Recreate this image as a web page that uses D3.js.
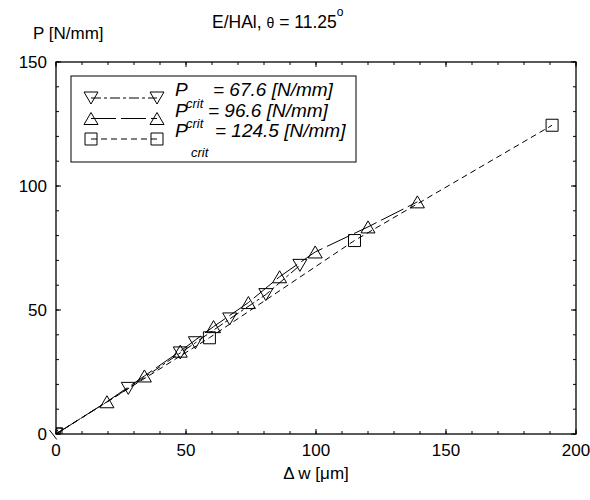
<!doctype html>
<html>
<head>
<script src="https://cdnjs.cloudflare.com/ajax/libs/d3/7.8.5/d3.min.js"></script>
<style>
  body { margin: 0; background: #fff; }
  text { font-family: "Liberation Sans", Arial, sans-serif; fill: #000; }
  .frame { fill: none; stroke: #000; stroke-width: 1.3; }
  .series { fill: none; stroke: #000; stroke-width: 1; }
  .marker { fill: none; stroke: #000; stroke-width: 1; }
</style>
</head>
<body>
<svg id="chart" width="590" height="500"></svg>
<script>
// ---- data ----
var xTicks = [0, 50, 100, 150, 200];
var yTicks = [0, 50, 100, 150];

// P_crit = 67.6 (down triangles, dash-dot)
var downW = [0, 27.8, 47.8, 53.6, 66.8, 80.7, 93.8];
var downP = [0, 18.4, 32.7, 36.8, 46.4, 56.2, 68.0];
// P_crit = 96.6 (up triangles, long dash)
var upW = [0, 19.6, 34, 47.8, 60.6, 74, 86, 99.7, 120, 139];
var upP = [0, 13, 23.4, 33.4, 43.3, 53, 63.4, 73.4, 83.5, 93.6];
// P_crit = 124.5 (squares, short dash)
var sqW = [0, 59, 114.8, 190.8];
var sqP = [0, 38.8, 78, 124.5];

var critLabels = ["= 67.6 [N/mm]", "= 96.6 [N/mm]", "= 124.5 [N/mm]"];

var svg = d3.select("#chart");
var pL = 56, pR = 576, pT = 62, pB = 434;

var x = d3.scaleLinear().domain([0, 200]).range([pL, pR]);
var y = d3.scaleLinear().domain([0, 150]).range([pB, pT]);

svg.append("clipPath").attr("id", "plotclip")
  .append("rect").attr("x", pL).attr("y", pT)
  .attr("width", pR - pL).attr("height", pB - pT);

// ticks, inward on all four sides
var minorX = d3.range(0, 201, 10), minorY = d3.range(0, 151, 10);
function tickLines(g, vals, len, horiz) {
  vals.forEach(function (v) {
    if (horiz) {
      g.append("line").attr("x1", x(v)).attr("x2", x(v)).attr("y1", pB).attr("y2", pB - len).attr("stroke", "#000");
      g.append("line").attr("x1", x(v)).attr("x2", x(v)).attr("y1", pT).attr("y2", pT + len).attr("stroke", "#000");
    } else {
      g.append("line").attr("y1", y(v)).attr("y2", y(v)).attr("x1", pL).attr("x2", pL + len).attr("stroke", "#000");
      g.append("line").attr("y1", y(v)).attr("y2", y(v)).attr("x1", pR).attr("x2", pR - len).attr("stroke", "#000");
    }
  });
}
var tg = svg.append("g");
tickLines(tg, minorX, 3, true);
tickLines(tg, minorY, 3, false);
tickLines(tg, xTicks, 5, true);
tickLines(tg, yTicks, 5, false);

svg.append("rect").attr("class", "frame")
  .attr("x", pL).attr("y", pT).attr("width", pR - pL).attr("height", pB - pT);

// tick labels
svg.selectAll(".xl").data(xTicks).enter().append("text")
  .attr("x", d => x(d)).attr("y", 456).attr("text-anchor", "middle")
  .style("font-size", "17px").text(d => d);
svg.selectAll(".yl").data(yTicks).enter().append("text")
  .attr("x", 47).attr("y", d => y(d) + 6).attr("text-anchor", "end")
  .style("font-size", "17px").text(d => d);

// small stub left of origin
svg.append("line")
  .attr("x1", x(-2.5)).attr("y1", y(1.6)).attr("x2", x(0.3)).attr("y2", y(-2.2))
  .attr("stroke", "#000");

// axis titles
svg.append("text").attr("x", 33).attr("y", 39).style("font-size", "17px").text("P [N/mm]");
svg.append("text").attr("x", (pL + pR) / 2).attr("y", 479).attr("text-anchor", "middle")
  .style("font-size", "17px").text("\u0394 w [\u03bcm]");

var title = svg.append("text").attr("x", 212).attr("y", 28).style("font-size", "17.5px");
title.append("tspan").text("E/HAl, ");
title.append("tspan").style("font-size", "14px").text("\u03b8");
title.append("tspan").text(" = 11.25");
title.append("tspan").attr("dy", -12).style("font-size", "12px").text("o");

// marker shapes
function downTri() { return "M-7,-6L7,-6L0,6Z"; }
function upTri() { return "M-7,6L7,6L0,-6Z"; }
function sqShape() { return "M-6,-6L6,-6L6,6L-6,6Z"; }

var series = [
  { w: downW, p: downP, dash: "10,3,3,3", shape: downTri },
  { w: upW, p: upP, dash: "25,5", shape: upTri },
  { w: sqW, p: sqP, dash: "6,4", shape: sqShape }
];

var plot = svg.append("g").attr("clip-path", "url(#plotclip)");
var line = d3.line().x(d => x(d[0])).y(d => y(d[1]));

series.forEach(function (s) {
  var pts = s.w.map((w, i) => [w, s.p[i]]);
  plot.append("path").attr("class", "series").attr("d", line(pts))
    .attr("stroke-dasharray", s.dash);
  plot.selectAll(null).data(pts).enter().append("path").attr("class", "marker")
    .attr("d", s.shape()).attr("transform", d => "translate(" + x(d[0]) + "," + y(d[1]) + ")");
});

// legend
var lg = svg.append("g");
lg.append("rect").attr("x", 71).attr("y", 76).attr("width", 285).attr("height", 86)
  .attr("fill", "#fff").attr("stroke", "#000").attr("stroke-width", 1);
var rowY = [98, 118.5, 139];
series.forEach(function (s, i) {
  lg.append("line").attr("x1", 91).attr("x2", 157).attr("y1", rowY[i]).attr("y2", rowY[i])
    .attr("stroke", "#000").attr("stroke-dasharray", s.dash);
  [91, 157].forEach(function (mx) {
    lg.append("path").attr("class", "marker").attr("d", s.shape())
      .attr("transform", "translate(" + mx + "," + rowY[i] + ")");
  });
  lg.append("text").attr("x", 175).attr("y", rowY[i] - 2).style("font-size", "19px")
    .style("font-style", "italic").text("P");
  lg.append("text").attr("x", [213, 208, 215][i]).attr("y", rowY[i] - 2).style("font-size", "19px")
    .style("font-style", "italic").text(critLabels[i]);
});
// the "crit" indices, shifted down one row as in the original
[rowY[1] - 11, rowY[2] - 11, rowY[2] + 18].forEach(function (cy, i) {
  lg.append("text").attr("x", [186, 186, 191][i]).attr("y", cy).style("font-size", "13px")
    .style("font-style", "italic").text("crit");
});
</script>
</body>
</html>
